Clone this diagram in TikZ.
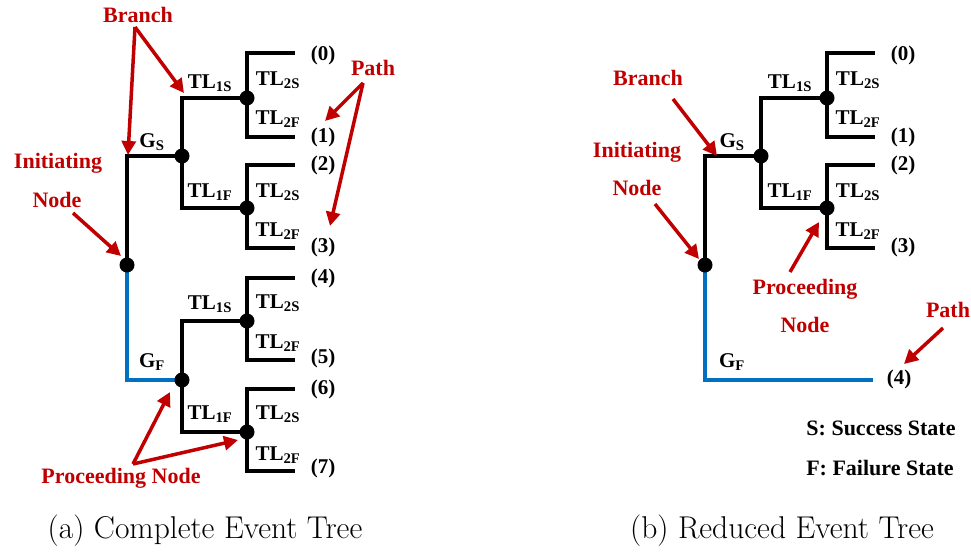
\documentclass[tikz,border=0pt]{standalone}
\usepackage{fontspec}
\newfontfamily\tnr{Liberation Serif}
\usetikzlibrary{arrows.meta}
\definecolor{ared}{RGB}{192,0,0}
\definecolor{ablue}{RGB}{0,112,192}
\newcommand{\TLs}[1]{TL\textsubscript{#1}}
\tikzset{
  treeline/.style={line width=4.2pt, black, line join=miter},
  blueline/.style={line width=4.2pt, ablue, line join=miter},
  dotnode/.style={circle, fill=black, inner sep=0pt, minimum size=15pt},
  lbl/.style={font=\tnr\bfseries\fontsize{21}{24}\selectfont, inner sep=0pt},
  leglbl/.style={font=\tnr\bfseries\fontsize{22}{26}\selectfont, inner sep=0pt},
  redlbl/.style={font=\tnr\bfseries\fontsize{22}{26}\selectfont, text=ared, inner sep=0pt},
  redarrow/.style={line width=3.5pt, ared, -{Triangle[length=14pt,width=14pt]}},
  caplbl/.style={font=\fontsize{31.5}{36}\selectfont, inner sep=0pt}
}
\begin{document}
\begin{tikzpicture}[x=1pt,y=-1pt]
\useasboundingbox (0,0) rectangle (971,552);
% ===================== (a) =====================
\coordinate (ai) at (127,265);
\coordinate (ags) at (182,156);
\coordinate (agf) at (182,380);
\coordinate (aa1) at (247,98);
\coordinate (aa2) at (247,208);
\coordinate (aa3) at (247,321);
\coordinate (aa4) at (247,432);
\coordinate (al0) at (295,53);
\coordinate (al1) at (295,137);
\coordinate (al2) at (295,165);
\coordinate (al3) at (295,248);
\coordinate (al4) at (295,278);
\coordinate (al5) at (295,360);
\coordinate (al6) at (295,389);
\coordinate (al7) at (295,471);
\draw[treeline] (ai) |- (ags);
\draw[blueline] (ai) |- (agf);
\draw[treeline] (ags) |- (aa1);
\draw[treeline] (ags) |- (aa2);
\draw[treeline] (agf) |- (aa3);
\draw[treeline] (agf) |- (aa4);
\draw[treeline] (aa1) |- (al0);
\draw[treeline] (aa1) |- (al1);
\draw[treeline] (aa2) |- (al2);
\draw[treeline] (aa2) |- (al3);
\draw[treeline] (aa3) |- (al4);
\draw[treeline] (aa3) |- (al5);
\draw[treeline] (aa4) |- (al6);
\draw[treeline] (aa4) |- (al7);
\node[dotnode] (aid) at (ai) {};
\node[dotnode] (agsd) at (ags) {};
\node[dotnode] (agfd) at (agf) {};
\node[dotnode] (aa1d) at (aa1) {};
\node[dotnode] (aa2d) at (aa2) {};
\node[dotnode] (aa3d) at (aa3) {};
\node[dotnode] (aa4d) at (aa4) {};
% labels
\node[lbl] (at0) at (323,55) {(0)};
\node[lbl] (at1) at (323,137) {(1)};
\node[lbl] (at2) at (323,165) {(2)};
\node[lbl] (at3) at (323,247) {(3)};
\node[lbl] (at4) at (323,278) {(4)};
\node[lbl] (at5) at (323,358) {(5)};
\node[lbl] (at6) at (323,389) {(6)};
\node[lbl] (at7) at (323,468) {(7)};
\node[lbl] (agsl) at (152,142) {G\textsubscript{S}};
\node[lbl] (agfl) at (152,362) {G\textsubscript{F}};
\node[lbl] (atl1) at (210,83) {\TLs{1S}};
\node[lbl] (atl2) at (210,192) {\TLs{1F}};
\node[lbl] (atl3) at (210,304) {\TLs{1S}};
\node[lbl] (atl4) at (210,414) {\TLs{1F}};
\node[lbl] (atm1) at (278,80) {\TLs{2S}};
\node[lbl] (atm2) at (278,119) {\TLs{2F}};
\node[lbl] (atm3) at (278,192) {\TLs{2S}};
\node[lbl] (atm4) at (278,231) {\TLs{2F}};
\node[lbl] (atm5) at (278,303) {\TLs{2S}};
\node[lbl] (atm6) at (278,343) {\TLs{2F}};
\node[lbl] (atm7) at (278,414) {\TLs{2S}};
\node[lbl] (atm8) at (278,455) {\TLs{2F}};
% red annotations
\node[redlbl] (abr) at (138,15) {Branch};
\node[redlbl] (ain1) at (58,163) {Initiating};
\node[redlbl] (ain2) at (57,200) {Node};
\node[redlbl] (apa) at (373,68) {Path};
\node[redlbl] (apr) at (121,478) {Proceeding Node};
\coordinate (abrs) at (135,27);
\coordinate (abrt1) at (128,155);
\coordinate (abrt2) at (184,93);
\draw[redarrow] (abrs) -- (abrt1);
\draw[redarrow] (abrs) -- (abrt2);
\coordinate (ains) at (73,213);
\coordinate (aint) at (121,256);
\draw[redarrow] (ains) -- (aint);
\coordinate (apas) at (363,83);
\coordinate (apat1) at (325,121);
\coordinate (apat2) at (330,226);
\draw[redarrow] (apas) -- (apat1);
\draw[redarrow] (apas) -- (apat2);
\coordinate (aprs) at (133,464);
\coordinate (aprt1) at (170,392);
\coordinate (aprt2) at (238,440);
\draw[redarrow] (aprs) -- (aprt1);
\draw[redarrow] (aprs) -- (aprt2);
% ===================== (b) =====================
\coordinate (bi) at (705,265);
\coordinate (bgs) at (761,156);
\coordinate (bb1) at (827,98);
\coordinate (bb2) at (827,208);
\coordinate (bl0) at (875,53);
\coordinate (bl1) at (875,137);
\coordinate (bl2) at (875,165);
\coordinate (bl3) at (875,248);
\coordinate (bl4) at (873,380);
\draw[treeline] (bi) |- (bgs);
\draw[blueline] (bi) |- (bl4);
\draw[treeline] (bgs) |- (bb1);
\draw[treeline] (bgs) |- (bb2);
\draw[treeline] (bb1) |- (bl0);
\draw[treeline] (bb1) |- (bl1);
\draw[treeline] (bb2) |- (bl2);
\draw[treeline] (bb2) |- (bl3);
\node[dotnode] (bid) at (bi) {};
\node[dotnode] (bgsd) at (bgs) {};
\node[dotnode] (bb1d) at (bb1) {};
\node[dotnode] (bb2d) at (bb2) {};
\node[lbl] (bt0) at (903,55) {(0)};
\node[lbl] (bt1) at (903,137) {(1)};
\node[lbl] (bt2) at (903,165) {(2)};
\node[lbl] (bt3) at (903,247) {(3)};
\node[lbl] (bt4) at (899,379) {(4)};
\node[lbl] (bgsl) at (732,142) {G\textsubscript{S}};
\node[lbl] (bgfl) at (732,362) {G\textsubscript{F}};
\node[lbl] (btl1) at (790,83) {\TLs{1S}};
\node[lbl] (btl2) at (790,192) {\TLs{1F}};
\node[lbl] (btm1) at (858,80) {\TLs{2S}};
\node[lbl] (btm2) at (858,119) {\TLs{2F}};
\node[lbl] (btm3) at (858,192) {\TLs{2S}};
\node[lbl] (btm4) at (858,231) {\TLs{2F}};
\node[leglbl] (bss) at (881,428) {S: Success State};
\node[leglbl] (bfs) at (880,468) {F: Failure State};
\node[redlbl] (bbr) at (648,78) {Branch};
\node[redlbl] (bin1) at (637,152) {Initiating};
\node[redlbl] (bin2) at (637,188) {Node};
\node[redlbl] (bpr1) at (805,289) {Proceeding};
\node[redlbl] (bpr2) at (805,325) {Node};
\node[redlbl] (bpa) at (948,310) {Path};
\coordinate (bbrs) at (673,99);
\coordinate (bbrt) at (717,156);
\draw[redarrow] (bbrs) -- (bbrt);
\coordinate (bins) at (655,204);
\coordinate (bint) at (699,259);
\draw[redarrow] (bins) -- (bint);
\coordinate (bprs) at (790,272);
\coordinate (bprt) at (819,222);
\draw[redarrow] (bprs) -- (bprt);
\coordinate (bpas) at (943,328);
\coordinate (bpat) at (904,364);
\draw[redarrow] (bpas) -- (bpat);
% captions
\node[caplbl] (capa) at (205,531) {(a) Complete Event Tree};
\node[caplbl] (capb) at (782,531) {(b) Reduced Event Tree};
\end{tikzpicture}
\end{document}
